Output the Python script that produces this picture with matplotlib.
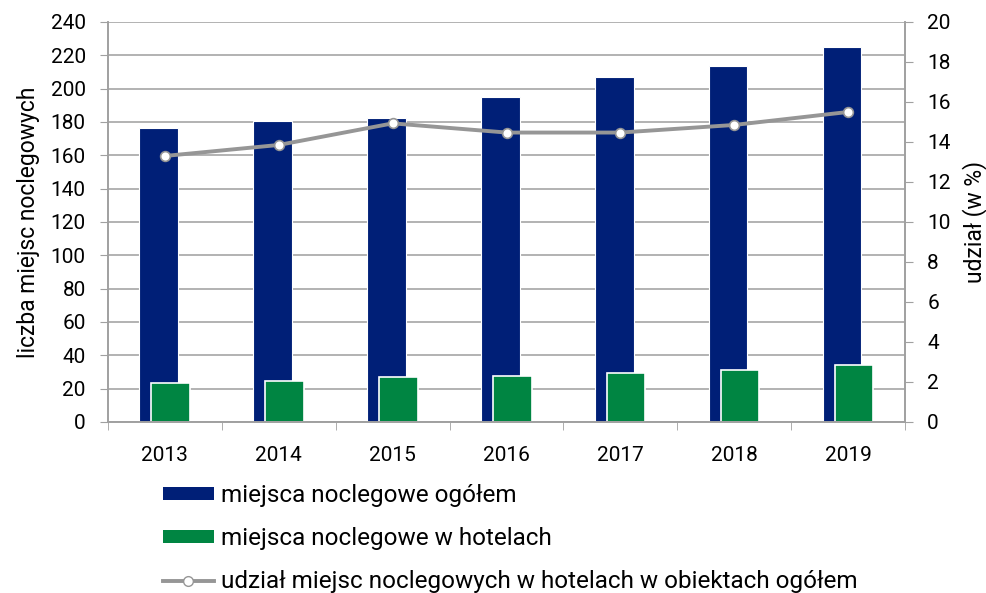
import matplotlib.pyplot as plt
import numpy as np
from matplotlib.lines import Line2D
from matplotlib.patches import Patch

plt.rcParams['font.family'] = ['Roboto', 'DejaVu Sans']

# data
years = ['2013', '2014', '2015', '2016', '2017', '2018', '2019']
total_beds = [176.5, 180.5, 182.6, 194.8, 207.0, 213.6, 224.8]
hotel_beds = [23.2, 24.4, 26.8, 27.8, 29.6, 31.2, 34.4]
share_pct = [13.3, 13.85, 14.93, 14.47, 14.47, 14.85, 15.5]

navy = '#001f77'
green = '#008542'
grey = '#969696'

fig = plt.figure(figsize=(9.86, 5.93), dpi=100)
ax = fig.add_axes([0.1095, 0.2884, 0.8085, 0.6746])
ax2 = ax.twinx()

x = np.arange(len(years))
w = 0.34
ax.bar(x - 0.055, total_beds, width=w, color=navy, edgecolor='white', linewidth=0.8, zorder=3)
ax.bar(x + 0.05, hotel_beds, width=w, color=green, edgecolor='white', linewidth=1.2, zorder=4)

ax2.plot(x, share_pct, color=grey, linewidth=2.8, marker='o', markersize=7,
         markerfacecolor='white', markeredgecolor=grey, markeredgewidth=1.2, zorder=5)

ax.set_xlim(-0.5, len(years) - 0.5)
ax.set_ylim(0, 240)
ax.set_yticks(np.arange(0, 241, 20))
ax2.set_ylim(0, 20)
ax2.set_yticks(np.arange(0, 21, 2))

ax.set_xticks(x)
ax.set_xticklabels(years)
ax.set_xticks(np.arange(-0.5, len(years), 1), minor=True)
ax.tick_params(axis='x', which='major', length=0, pad=17, labelsize=15)
ax.tick_params(axis='x', which='minor', length=6, color='#a0a0a0')
ax.tick_params(axis='y', length=6, color='#a0a0a0', labelsize=15, pad=10)
ax2.tick_params(axis='y', length=6, color='#a0a0a0', labelsize=15, pad=10)

ax.yaxis.grid(True, color='#a6a6a6', linewidth=1.2, zorder=0)
ax.set_axisbelow(True)

for a in (ax, ax2):
    a.spines['top'].set_visible(False)
    for s in ('left', 'right', 'bottom'):
        a.spines[s].set_color('#a0a0a0')
        a.spines[s].set_linewidth(1.2)
ax.spines['bottom'].set_zorder(6)

ax.set_ylabel('liczba miejsc noclegowych', fontsize=16.5, labelpad=8)
ax2.set_ylabel('udział (w %)', fontsize=16.5, labelpad=8)

handles = [
    Patch(facecolor=navy, edgecolor='none'),
    Patch(facecolor=green, edgecolor='none'),
    Line2D([0], [0], color=grey, linewidth=2.8, marker='o', markersize=7,
           markerfacecolor='white', markeredgecolor=grey),
]
labels = ['miejsca noclegowe ogółem', 'miejsca noclegowe w hotelach',
          'udział miejsc noclegowych w hotelach w obiektach ogółem']
fig.legend(handles, labels, loc='upper left', bbox_to_anchor=(0.165, 0.184),
           frameon=False, fontsize=17.5, handlelength=2.1, handleheight=0.45,
           handletextpad=0.3, labelspacing=0.83, borderaxespad=0, borderpad=0)

fig.savefig('out.png', dpi=100)
